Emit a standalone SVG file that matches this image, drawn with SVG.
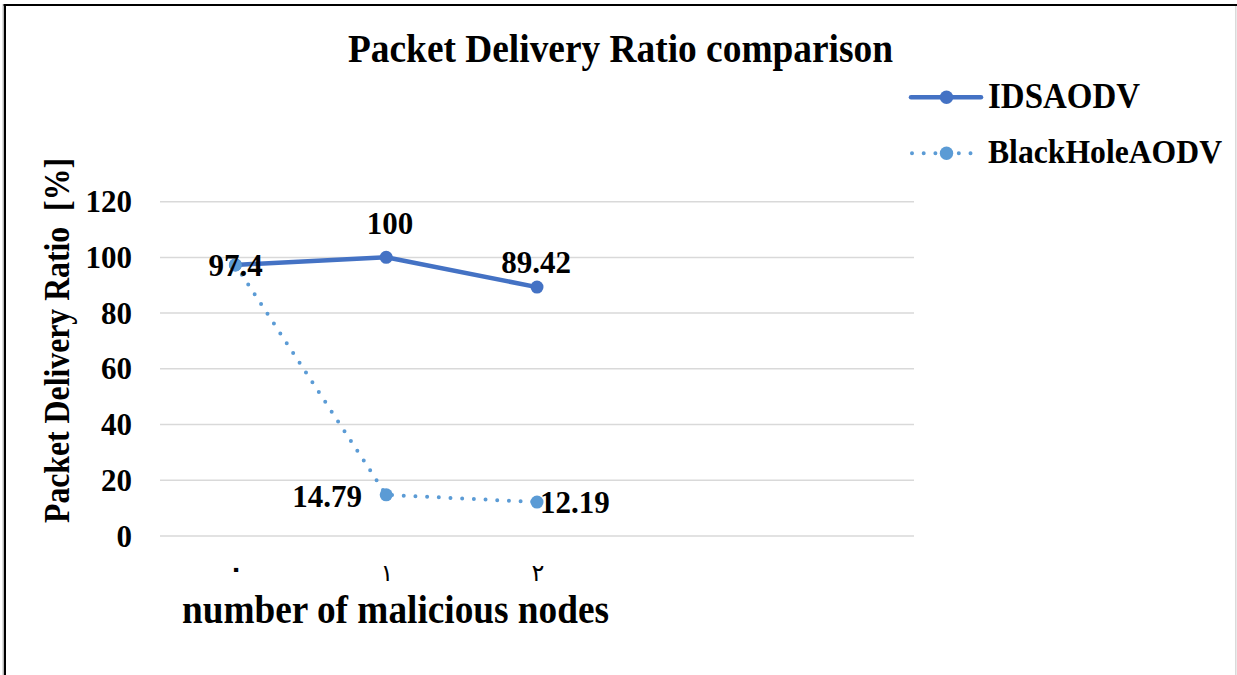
<svg xmlns="http://www.w3.org/2000/svg" width="1237" height="675" viewBox="0 0 1237 675">
<style>
.t{font-family:"Liberation Serif","Times New Roman",serif;font-weight:bold;fill:#000}
.grid{stroke:#D9D9D9;stroke-width:1.5}
.ids{fill:none;stroke:#4472C4;stroke-width:4.5;stroke-linecap:round;stroke-linejoin:round}
.bh{fill:none;stroke:#5B9BD5;stroke-width:4;stroke-linecap:round;stroke-dasharray:0 11.7}
.m1{fill:#4472C4}
.m2{fill:#5B9BD5}
</style>
<rect x="0" y="0" width="1237" height="675" fill="#fff"/>
<g id="frame">
<line x1="3" y1="5" x2="1237" y2="5" stroke="#000" stroke-width="2"/>
<line x1="5" y1="4" x2="5" y2="675" stroke="#000" stroke-width="2"/>
<line x1="3.2" y1="4" x2="3.2" y2="675" stroke="#999" stroke-width="1"/>
<line x1="1235.8" y1="6" x2="1235.8" y2="675" stroke="#D9D9D9" stroke-width="1.5"/>
</g>
<text id="title" class="t" x="348" y="62" font-size="40" textLength="545" lengthAdjust="spacingAndGlyphs">Packet Delivery Ratio comparison</text>
<g id="gridlines">
<line class="grid" x1="160" y1="201.7" x2="914" y2="201.7"/>
<line class="grid" x1="160" y1="257.4" x2="914" y2="257.4"/>
<line class="grid" x1="160" y1="313.1" x2="914" y2="313.1"/>
<line class="grid" x1="160" y1="368.8" x2="914" y2="368.8"/>
<line class="grid" x1="160" y1="424.5" x2="914" y2="424.5"/>
<line class="grid" x1="160" y1="480.3" x2="914" y2="480.3"/>
<line class="grid" x1="160" y1="536" x2="914" y2="536"/>
</g>
<g id="y-ticks" class="t" font-size="31" text-anchor="end">
<text x="132" y="212.3">120</text>
<text x="132" y="268">100</text>
<text x="132" y="323.7">80</text>
<text x="132" y="379.4">60</text>
<text x="132" y="435.1">40</text>
<text x="132" y="490.9">20</text>
<text x="132" y="546.6">0</text>
</g>
<g id="x-ticks" font-family="'Liberation Serif','DejaVu Sans',serif" font-weight="normal" font-size="24" text-anchor="middle" fill="#000">
<text x="236" y="577" font-weight="bold">٠</text>
<text x="387" y="581">١</text>
<text x="538" y="581">٢</text>
</g>
<text id="y-title" class="t" font-size="35" textLength="365" lengthAdjust="spacingAndGlyphs" transform="translate(69,523) rotate(-90)" xml:space="preserve">Packet Delivery Ratio  [%]</text>
<text id="x-title" class="t" x="182" y="623" font-size="40" textLength="427" lengthAdjust="spacingAndGlyphs">number of malicious nodes</text>
<g id="connectors">
<polyline id="series-ids" class="ids" points="235.4,264.9 386.2,257.3 537,287.1"/>
<polyline id="series-bh" class="bh" points="235.4,264.9 386.2,494.8 537,502.1"/>
</g>
<g id="node-ids-0"><circle class="m1" cx="235.4" cy="264.9" r="6.5"/></g>
<g id="node-ids-1"><circle class="m1" cx="386.2" cy="257.3" r="6.5"/><text class="t" x="390" y="234" font-size="31" text-anchor="middle">100</text></g>
<g id="node-ids-2"><circle class="m1" cx="537" cy="287.1" r="6.5"/><text class="t" x="536" y="273" font-size="31" text-anchor="middle">89.42</text></g>
<g id="node-bh-0"><circle class="m2" cx="235.4" cy="264.9" r="6.5"/><text class="t" x="235.5" y="276" font-size="31" text-anchor="middle">97.4</text></g>
<g id="node-bh-1"><circle class="m2" cx="386.2" cy="494.8" r="6.5"/><text class="t" x="362" y="506.5" font-size="31" text-anchor="end">14.79</text></g>
<g id="node-bh-2"><circle class="m2" cx="537" cy="502.1" r="6.5"/><text class="t" x="540" y="513" font-size="31">12.19</text></g>
<g id="legend">
<g id="legend-ids">
<line class="ids" x1="911" y1="97.3" x2="981" y2="97.3"/>
<circle class="m1" cx="946.5" cy="97.3" r="6.7"/>
<text class="t" x="988" y="108.3" font-size="35" textLength="152" lengthAdjust="spacingAndGlyphs">IDSAODV</text>
</g>
<g id="legend-bh">
<line x1="912" y1="153.3" x2="972" y2="153.3" stroke="#5B9BD5" stroke-width="4" stroke-linecap="round" stroke-dasharray="0 11.7"/>
<circle class="m2" cx="946.5" cy="153.3" r="6.7"/>
<text class="t" x="988" y="163.3" font-size="34" textLength="234" lengthAdjust="spacingAndGlyphs">BlackHoleAODV</text>
</g>
</g>
</svg>
